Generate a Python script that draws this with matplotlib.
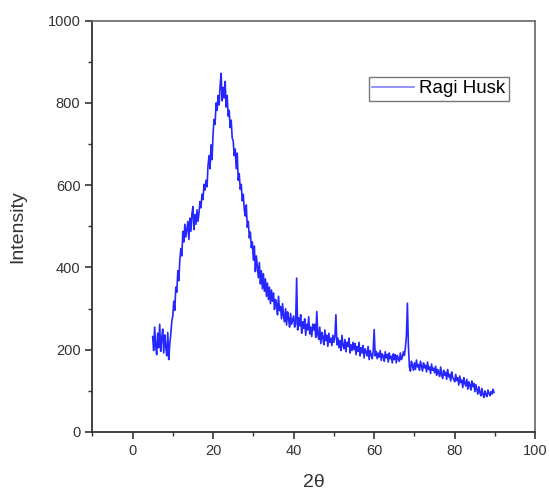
import numpy as np
import matplotlib.pyplot as plt
from matplotlib.ticker import MultipleLocator
from matplotlib.lines import Line2D

plt.rcParams['font.family'] = ['Liberation Sans', 'DejaVu Sans']

# XRD scan, 2theta from 5 to 89.75 deg in 0.25 deg steps (one row = 5 deg)
two_theta = np.arange(5.0, 90.0, 0.25)
intensity = [
    232, 198, 255, 210, 188, 240, 205, 262, 196, 228, 250, 192, 236, 208, 185, 242, 176, 214, 238, 268,
    282, 318, 296, 352, 340, 392, 368, 418, 446, 428, 488, 462, 505, 474, 492, 512, 468, 520, 488, 530,
    548, 492, 528, 505, 540, 512, 532, 560, 545, 578, 565, 602, 588, 612, 596, 648, 672, 640, 698, 662,
    725, 760, 748, 800, 782, 818, 795, 842, 872, 805, 838, 812, 852, 790, 818, 768, 782, 740, 758, 715,
    708, 672, 688, 640, 678, 612, 628, 590, 602, 562, 578, 540, 525, 552, 498, 512, 472, 486, 448, 462,
    418, 452, 390, 428, 402, 375, 412, 360, 392, 348, 385, 342, 372, 330, 362, 322, 352, 312, 345, 318,
    338, 298, 322, 312, 285, 330, 295, 305, 275, 312, 282, 268, 300, 260, 292, 275, 255, 288, 262, 272,
    282, 255, 262, 374, 248, 278, 258, 285, 240, 268, 252, 275, 235, 262, 248, 280, 238, 255, 232, 262,
    248, 262, 230, 293, 238, 225, 255, 215, 242, 230, 212, 248, 222, 235, 208, 240, 218, 228, 210, 235,
    218, 232, 285, 212, 228, 205, 222, 198, 235, 210, 202, 225, 195, 218, 208, 228, 192, 212, 198, 218,
    200, 215, 188, 208, 196, 218, 185, 205, 192, 210, 180, 202, 195, 185, 208, 176, 198, 188, 178, 196,
    249, 185, 196, 178, 192, 182, 198, 174, 190, 184, 172, 195, 180, 188, 170, 192, 178, 184, 168, 190,
    176, 188, 168, 186, 178, 172, 192, 176, 182, 195, 186, 205, 232, 313, 210, 158, 148, 172, 162, 150,
    168, 152, 175, 158, 164, 150, 172, 160, 148, 168, 156, 162, 146, 170, 152, 158, 142, 165, 150, 155,
    144, 160, 138, 152, 146, 135, 158, 140, 130, 150, 138, 145, 128, 152, 134, 140, 124, 146, 132, 128,
    122, 140, 125, 132, 114, 136, 120, 126, 108, 132, 118, 112, 128, 104, 122, 115, 102, 124, 110, 118,
    98, 115, 104, 92, 110, 96, 88, 106, 92, 84, 100, 90, 86, 102, 94, 88, 98, 92, 104, 96,
]

fig = plt.figure(figsize=(5.49, 4.92), dpi=100)
ax = fig.add_axes([0.168, 0.122, 0.807, 0.836])

ax.plot(two_theta, intensity, color='#0000ff', lw=1.2, alpha=0.85)

ax.set_xlim(-10, 100)
ax.set_ylim(0, 1000)
ax.xaxis.set_major_locator(MultipleLocator(20))
ax.xaxis.set_minor_locator(MultipleLocator(10))
ax.yaxis.set_major_locator(MultipleLocator(200))
ax.yaxis.set_minor_locator(MultipleLocator(100))
ax.tick_params(which='major', direction='out', length=5, width=1.2,
               colors='#333333', labelsize=10.5, labelcolor='#333333')
ax.tick_params(which='minor', direction='out', length=3, width=1.0, colors='#333333')
ax.tick_params(top=False, right=False, which='both')

for side in ['left', 'bottom']:
    ax.spines[side].set_color('#333333')
    ax.spines[side].set_linewidth(1.3)
for side in ['top', 'right']:
    ax.spines[side].set_color('#666666')
    ax.spines[side].set_linewidth(1.2)

ax.set_xlabel('2θ', fontsize=14, color='#333333', labelpad=12)
ax.set_ylabel('Intensity', fontsize=14, color='#333333', labelpad=15)

handle = Line2D([], [], color='#8080ff', lw=1.2)
leg = ax.legend([handle], ['Ragi Husk'], loc='upper right',
                bbox_to_anchor=(0.941, 0.864), borderaxespad=0,
                fancybox=False, edgecolor='#777777', fontsize=13.5,
                handlelength=2.2, handletextpad=0.3, borderpad=0.2,
                framealpha=1)
leg.get_frame().set_linewidth(1.0)

fig.savefig('out.png', dpi=100)
